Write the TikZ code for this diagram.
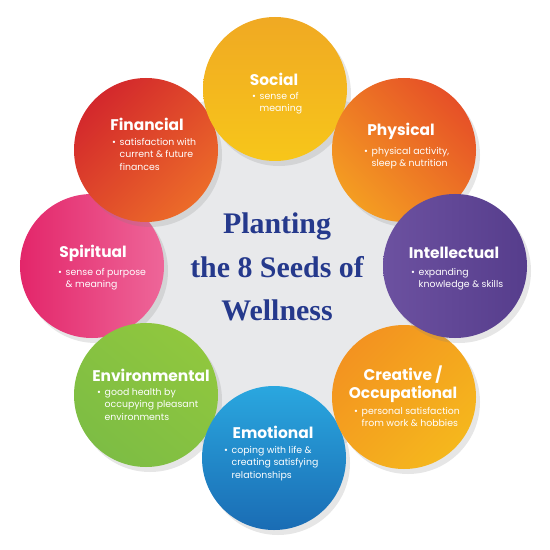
\documentclass[tikz,border=0pt]{standalone}
\usepackage{fontspec}
\setmainfont{Liberation Serif}
\newfontfamily\seedsans{Poppins}
\usetikzlibrary{positioning,shadows}

\definecolor{titleblue}{HTML}{25398C}
\definecolor{backgray}{HTML}{E8E9EB}
\definecolor{socialA}{HTML}{F0A923}
\definecolor{socialB}{HTML}{F7C61A}
\definecolor{physA}{HTML}{E65027}
\definecolor{physB}{HTML}{F49D22}
\definecolor{intelA}{HTML}{6C51A0}
\definecolor{intelB}{HTML}{563D8C}
\definecolor{creatA}{HTML}{F39320}
\definecolor{creatB}{HTML}{F5B71D}
\definecolor{emoA}{HTML}{2AA7DF}
\definecolor{emoB}{HTML}{1A6CB4}
\definecolor{envA}{HTML}{90C73E}
\definecolor{envB}{HTML}{7DBD44}
\definecolor{spirA}{HTML}{E3266A}
\definecolor{spirB}{HTML}{EE6699}
\definecolor{finA}{HTML}{D3282C}
\definecolor{finB}{HTML}{EC6B29}

\pgfdeclareradialshading{backdrop}{\pgfpoint{0bp}{0bp}}{color(0bp)=(backgray); color(32bp)=(backgray); color(50bp)=(white)}

\newcommand{\bul}{\makebox[0.8em][l]{\textbullet}}
\newcommand{\ind}{\hspace*{0.8em}}

\begin{document}
\begin{tikzpicture}[x=1bp, y=-1bp,
        seed/.style={circle, minimum size=144bp, inner sep=0pt, drop shadow={opacity=.2, shadow xshift=4bp, shadow yshift=-5bp}},
        head/.style={text=white, font=\seedsans\bfseries\fontsize{15.5}{18}\selectfont, align=center, inner sep=0pt},
        body/.style={text=white, font=\seedsans\fontsize{9.4}{12.6}\selectfont, align=left, inner sep=0pt, anchor=north west},
        title/.style={text=titleblue, font=\bfseries\fontsize{30}{44}\selectfont, align=center, inner sep=0pt}]
        \useasboundingbox (0,0) rectangle (550,550);
        % grey disc behind the ring
        \shade[shading=backdrop] (275,272) circle (185);

        % the eight seeds
        \node[seed, left color=spirA, right color=spirB] (spiritual) at (92,266) {};
        \node[seed, top color=envA, bottom color=envB, shading angle=-40] (environmental) at (146,395) {};
        \node[seed, top color=emoA, bottom color=emoB] (emotional) at (274,458) {};
        \node[seed, top color=creatA, bottom color=creatB, shading angle=45] (creative) at (404,397) {};
        \node[seed, top color=finA, bottom color=finB, shading angle=45] (financial) at (146,150) {};
        \node[seed, top color=socialA, bottom color=socialB] (social) at (275,89) {};
        \node[seed, top color=physA, bottom color=physB, shading angle=-45] (physical) at (404,150) {};
        \node[seed, left color=intelA, right color=intelB] (intellectual) at (455,266) {};

        % headings
        \node[head] (socialhead) at (274,79) {Social};
        \node[head] (physicalhead) at (401,131) {Physical};
        \node[head] (intellectualhead) at (454,253) {Intellectual};
        \node[head] (creativehead) at (403,384) {Creative /\\Occupational};
        \node[head] (emotionalhead) at (273,432) {Emotional};
        \node[head] (environmentalhead) at (151,375) {Environmental};
        \node[head] (spiritualhead) at (93,253) {Spiritual};
        \node[head] (financialhead) at (147,124) {Financial};

        % bullet texts
        \node[body] (socialtext) at (252,92) {\bul sense of\\\ind meaning};
        \node[body] (physicaltext) at (364,147) {\bul physical activity,\\\ind sleep \& nutrition};
        \node[body] (intellectualtext) at (411,268) {\bul expanding\\\ind knowledge \& skills};
        \node[body] (creativetext) at (354,407) {\bul personal satisfaction\\\ind from work \& hobbies};
        \node[body] (emotionaltext) at (224,446) {\bul coping with life \&\\\ind creating satisfying\\\ind relationships};
        \node[body] (environmentaltext) at (97,388) {\bul good health by\\\ind occupying pleasant\\\ind environments};
        \node[body] (spiritualtext) at (58,268) {\bul sense of purpose\\\ind \& meaning};
        \node[body] (financialtext) at (112,138) {\bul satisfaction with\\\ind current \& future\\\ind finances};

        % title
        \node[title] (planting) at (277,267) {Planting\\the 8 Seeds of\\Wellness};
    \end{tikzpicture}
\end{document}
